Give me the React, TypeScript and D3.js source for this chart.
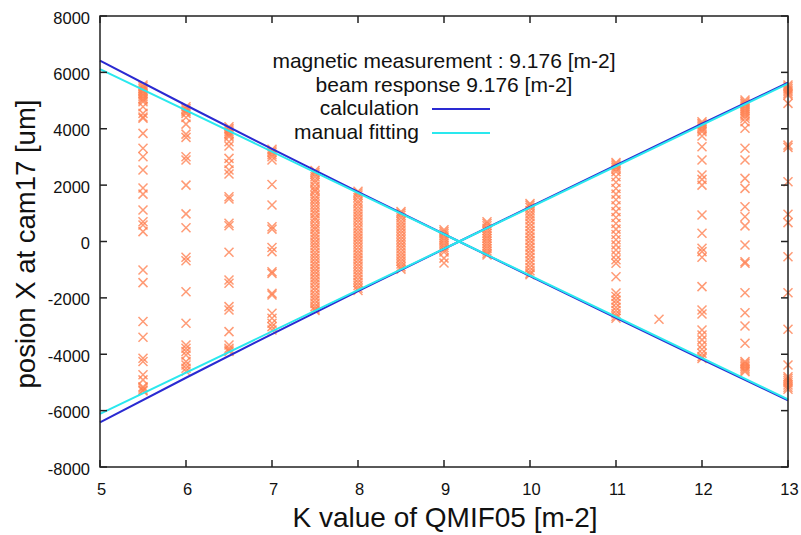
import React from "react";
import * as d3 from "d3";

// axis ticks
const kTicks = [5, 6, 7, 8, 9, 10, 11, 12, 13];
const posTicks = [-8000, -6000, -4000, -2000, 0, 2000, 4000, 6000, 8000];

// measured beam position at each K setting (um)
const scanK = [5.5, 6, 6.5, 7, 7.5, 8, 8.5, 9, 9.5, 10, 11, 11.5, 12, 12.5, 13];
const scanX: number[][] = [
  [5550, 5490, 5430, 5370, 5310, 5250, 5195, 5135, 5075, 5020, 4960, 4780, 4545, 4420, 4370, 3835, 3305, 3010, 2535, 1900, 1680, 1115, 700, 585, 350, -1010, -1460, -2840, -3400, -4140, -4260, -4730, -4910, -5150, -5200, -5265, -5300],
  [4780, 4720, 4660, 4600, 4545, 4400, 4165, 3810, 3695, 3010, 2890, 2000, 980, 490, -560, -680, -1780, -2900, -3670, -3787, -3900, -4025, -4262, -4380, -4496, -4600],
  [4070, 4010, 3955, 3895, 3835, 3775, 3715, 3540, 3385, 2950, 2770, 2535, 2393, 1590, 1510, 645, 560, -380, -1365, -1482, -2310, -2430, -3197, -3670, -3787, -3850, -3905],
  [3270, 3210, 3150, 3080, 3010, 2890, 2020, 1295, 525, 440, -215, -360, -1070, -1130, -1840, -1900, -2545, -2725, -2900, -3020, -3140],
  [2520, 2460, 2390, 2300, 2180, 2090, 1960, 1850, 1770, 1640, 1520, 1430, 1310, 1200, 1090, 980, 850, 760, 640, 520, 430, 300, 190, 80, -40, -150, -260, -380, -490, -600, -720, -830, -950, -1060, -1170, -1290, -1400, -1510, -1630, -1740, -1860, -1970, -2080, -2200, -2310, -2400, -2450],
  [1780, 1720, 1650, 1560, 1440, 1350, 1230, 1120, 1010, 900, 790, 680, 560, 450, 340, 230, 120, 10, -100, -210, -330, -440, -550, -660, -780, -890, -1000, -1110, -1220, -1340, -1450, -1560, -1660, -1740],
  [1060, 1000, 930, 840, 730, 620, 510, 400, 290, 180, 70, -40, -150, -260, -370, -480, -590, -700, -800, -900, -980],
  [420, 350, 280, 200, 120, 40, -50, -130, -210, -290, -370, -590, -760],
  [700, 640, 560, 470, 380, 290, 200, 110, 20, -70, -160, -250, -340, -420, -480],
  [1350, 1290, 1210, 1100, 980, 880, 760, 640, 520, 400, 280, 160, 40, -80, -200, -320, -440, -560, -680, -800, -920, -1040, -1130, -1180],
  [2800, 2750, 2690, 2630, 2560, 2480, 2300, 2100, 1880, 1680, 1480, 1270, 1060, 850, 640, 440, 250, 60, -120, -300, -480, -650, -770, -1250, -1830, -1950, -2080, -2200, -2330, -2450, -2560, -2650, -2720],
  [-2760],
  [4250, 4190, 4130, 4070, 4015, 3955, 3895, 3740, 3360, 2890, 2360, 2205, 2000, 940, 290, -240, -360, -560, -1600, -2430, -2570, -3140, -3315, -3490, -3670, -3825, -3965, -4085, -4150],
  [5020, 4960, 4900, 4840, 4780, 4720, 4660, 4590, 4520, 4450, 4370, 4250, 4015, 3305, 2890, 2240, 1885, 1235, 880, 555, -124, -716, -773, -1815, -2525, -3000, -3610, -4262, -4320, -4380, -4440, -4496, -4560, -4616],
  [5550, 5490, 5430, 5370, 5310, 5250, 5195, 4900, 3420, 3340, 2120, 970, 670, -540, -1815, -3115, -4380, -4795, -4860, -4935, -5010, -5090, -5170, -5240],
];

// calculation (from magnetic measurement)
const calcK = [5, 6, 7, 8, 9.176, 10, 11, 12, 13];
const calcUpper = [6414, 4834, 3284, 1764, 0, -1228, -2708, -4178, -5638];
const calcLower = [-6414, -4834, -3284, -1764, 0, 1228, 2708, 4178, 5638];

// manual fitting
const fitK = [5, 9.176, 13];
const fitUpper = [6118, 0, -5602];
const fitLower = [-6118, 0, 5602];

const keyTitles = ["magnetic measurement : 9.176 [m-2]", "beam response 9.176 [m-2]"];
const keyLines = [
  { label: "calculation", color: "#2a2ad2" },
  { label: "manual fitting", color: "#2ae8ee" },
];

const W = 801, H = 535;
const left = 100, right = 788, top = 16, bottom = 467;
const font = "'Liberation Sans', Arial, sans-serif";

export default function App() {
  const x = d3.scaleLinear().domain([5, 13]).range([left, right]);
  const y = d3.scaleLinear().domain([-8000, 8000]).range([bottom, top]);

  const line = d3.line<[number, number]>().x(d => x(d[0])).y(d => y(d[1]));
  const zip = (ks: number[], vs: number[]) => ks.map((k, i) => [k, vs[i]] as [number, number]);

  const pts: { k: number; v: number }[] = [];
  scanK.forEach((k, i) => scanX[i].forEach(v => pts.push({ k, v })));

  const m = 4.5; // half size of the x marker
  const tick = 7;

  return (
    <svg width={W} height={H} style={{ display: "block", background: "#fff" }} fontFamily={font}>
      <style>{"body{margin:0}"}</style>

      {/* measurements */}
      <g stroke="#ff7f50" strokeWidth={1.5} strokeOpacity={0.78} fill="none">
        {pts.map((p, i) => {
          const cx = x(p.k), cy = y(p.v);
          return <path key={i} d={`M${cx - m},${cy - m}L${cx + m},${cy + m}M${cx - m},${cy + m}L${cx + m},${cy - m}`} />;
        })}
      </g>

      {/* lines */}
      <g fill="none" strokeWidth={2}>
        <path d={line(zip(calcK, calcUpper)) || ""} stroke={keyLines[0].color} />
        <path d={line(zip(calcK, calcLower)) || ""} stroke={keyLines[0].color} />
        <path d={line(zip(fitK, fitUpper)) || ""} stroke={keyLines[1].color} />
        <path d={line(zip(fitK, fitLower)) || ""} stroke={keyLines[1].color} />
      </g>

      {/* frame and ticks */}
      <g stroke="#222" strokeWidth={1.5}>
        <rect x={left} y={top} width={right - left} height={bottom - top} fill="none" />
        {kTicks.map(t => (
          <g key={t}>
            <line x1={x(t)} x2={x(t)} y1={bottom} y2={bottom - tick} />
            <line x1={x(t)} x2={x(t)} y1={top} y2={top + tick} />
          </g>
        ))}
        {posTicks.map(t => (
          <g key={t}>
            <line x1={left} x2={left + tick} y1={y(t)} y2={y(t)} />
            <line x1={right} x2={right - tick} y1={y(t)} y2={y(t)} />
          </g>
        ))}
      </g>

      {/* tick labels */}
      <g fontSize={16.5} fill="#111">
        {kTicks.map(t => (
          <text key={t} x={x(t) + 1.5} y={bottom + 28} textAnchor="middle">{t}</text>
        ))}
        {posTicks.map(t => (
          <text key={t} x={left - 10} y={y(t) + 7.5} textAnchor="end">{t}</text>
        ))}
      </g>

      {/* axis titles */}
      <text x={445} y={527} textAnchor="middle" fontSize={28} fill="#111">K value of QMIF05 [m-2]</text>
      <text transform={`translate(35,244) rotate(-90)`} textAnchor="middle" fontSize={27.5} fill="#111">posion X at cam17 [um]</text>

      {/* key */}
      <g fontSize={21} fill="#111">
        {keyTitles.map((t, i) => (
          <text key={t} x={444} y={68 + i * 23.5} textAnchor="middle">{t}</text>
        ))}
        {keyLines.map((d, i) => (
          <g key={d.label}>
            <text x={419} y={115 + i * 24} textAnchor="end">{d.label}</text>
            <line x1={432} x2={490} y1={109 + i * 24} y2={109 + i * 24} stroke={d.color} strokeWidth={2} />
          </g>
        ))}
      </g>
    </svg>
  );
}
